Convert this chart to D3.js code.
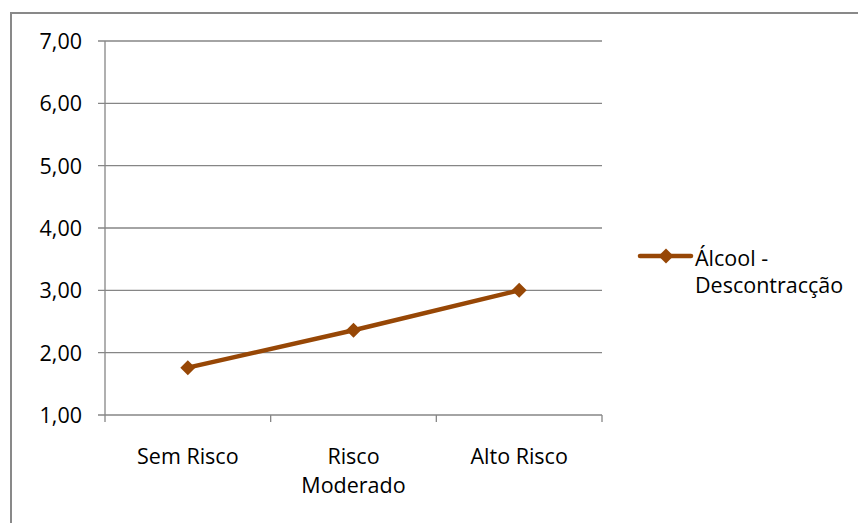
<!DOCTYPE html>
<html><head><meta charset="utf-8">
<script src="https://cdn.jsdelivr.net/npm/d3@7"></script>
<style>body{margin:0;background:#fff}svg{display:block}text{font-family:"Open Sans",sans-serif;fill:#000}</style>
</head><body>
<script>
const categories = [["Sem Risco"], ["Risco", "Moderado"], ["Alto Risco"]];
const values = [1.76, 2.36, 3.00];
const yTicks = [1, 2, 3, 4, 5, 6, 7];
const seriesName = ["Álcool -", "Descontracção"];
const color = "#974706";

const W = 858, H = 523;
const svg = d3.select("body").append("svg").attr("width", W).attr("height", H);
svg.append("rect").attr("x", 11).attr("y", 13).attr("width", 860).attr("height", 520)
  .attr("fill", "none").attr("stroke", "#898989").attr("stroke-width", 2);

const L = 105, R = 602, T = 41, B = 415;
const x = d3.scaleBand().domain(d3.range(categories.length)).range([L, R]);
const y = d3.scaleLinear().domain([1, 7]).range([B, T]);
const FS = 21.5;

const g = svg.append("g");
g.selectAll(".grid").data(yTicks).join("line")
  .attr("x1", L - 7).attr("x2", R).attr("y1", d => y(d)).attr("y2", d => y(d))
  .attr("stroke", "#868686").attr("stroke-width", 1.3);
g.append("line").attr("x1", L).attr("x2", L).attr("y1", T).attr("y2", B)
  .attr("stroke", "#868686").attr("stroke-width", 1.3);
const xt = d3.range(categories.length + 1).map(i => L + i * x.bandwidth());
g.selectAll(".xt").data(xt).join("line")
  .attr("x1", d => d).attr("x2", d => d).attr("y1", B).attr("y2", B + 7)
  .attr("stroke", "#868686").attr("stroke-width", 1.3);

g.selectAll(".yl").data(yTicks).join("text")
  .attr("x", 82).attr("y", d => y(d) + 8).attr("text-anchor", "end")
  .attr("font-size", FS).text(d => d.toFixed(2).replace(".", ","));

categories.forEach((lines, i) => {
  lines.forEach((t, j) => {
    g.append("text").attr("x", x(i) + x.bandwidth() / 2).attr("y", 464 + j * 29)
      .attr("text-anchor", "middle").attr("font-size", FS).text(t);
  });
});

const line = d3.line().x((d, i) => x(i) + x.bandwidth() / 2).y(d => y(d));
g.append("path").datum(values).attr("d", line).attr("fill", "none")
  .attr("stroke", color).attr("stroke-width", 4.5).attr("stroke-linejoin", "round");
const diamond = s => `M0,${-s}L${s},0L0,${s}L${-s},0Z`;
g.selectAll(".pt").data(values).join("path")
  .attr("transform", (d, i) => `translate(${x(i) + x.bandwidth() / 2},${y(d)})`)
  .attr("d", diamond(7.5)).attr("fill", color);

const lg = svg.append("g");
lg.append("line").attr("x1", 640).attr("x2", 691).attr("y1", 256).attr("y2", 256)
  .attr("stroke", color).attr("stroke-width", 4.5).attr("stroke-linecap", "round");
lg.append("path").attr("transform", "translate(666,256)").attr("d", diamond(7.5)).attr("fill", color);
seriesName.forEach((t, j) => {
  lg.append("text").attr("x", 695).attr("y", 266 + j * 27).attr("font-size", FS).text(t);
});
</script>
</body></html>
